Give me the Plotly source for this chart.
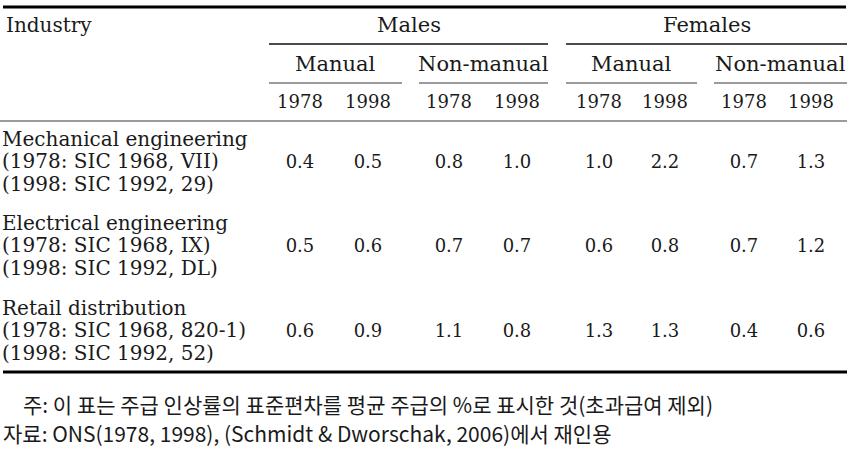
import plotly.graph_objects as go

# ---------------- data ----------------
industries = ["Mechanical engineering", "Electrical engineering", "Retail distribution"]
sic_1978 = ["(1978: SIC 1968, VII)", "(1978: SIC 1968, IX)", "(1978: SIC 1968, 820-1)"]
sic_1998 = ["(1998: SIC 1992, 29)", "(1998: SIC 1992, DL)", "(1998: SIC 1992, 52)"]

sexes = ["Males", "Females"]
occupations = ["Manual", "Non-manual"]
years = ["1978", "1998"]

male_manual_1978 = [0.4, 0.5, 0.6]
male_manual_1998 = [0.5, 0.6, 0.9]
male_nonmanual_1978 = [0.8, 0.7, 1.1]
male_nonmanual_1998 = [1.0, 0.7, 0.8]
female_manual_1978 = [1.0, 0.6, 1.3]
female_manual_1998 = [2.2, 0.8, 1.3]
female_nonmanual_1978 = [0.7, 0.7, 0.4]
female_nonmanual_1998 = [1.3, 1.2, 0.6]

header_industry = "Industry"
note_text = "주: 이 표는 주급 인상률의 표준편차를 평균 주급의 %로 표시한 것(초과급여 제외)"
source_text = "자료: ONS(1978, 1998), (Schmidt & Dworschak, 2006)에서 재인용"

# ---------------- layout constants ----------------
W, H = 854, 449
SERIF = "DejaVu Serif"
KR = "Noto Sans CJK KR"
INK = "#1a1a1a"

COL_X = [300, 368, 449, 517, 599, 665, 744, 811]       # value column centres
ROW_Y = [163, 247, 332]                                 # value row centres
LINE_GAP = 22.5                                         # label line spacing
OCC_SPANS = [(269, 402), (419, 548), (566, 697), (714, 847)]
SEX_SPANS = [(269, 548), (566, 847)]

columns = [male_manual_1978, male_manual_1998, male_nonmanual_1978, male_nonmanual_1998,
           female_manual_1978, female_manual_1998, female_nonmanual_1978, female_nonmanual_1998]

fig = go.Figure()

# value cells
for cx, col in zip(COL_X, columns):
    fig.add_trace(go.Scatter(
        x=[cx] * len(col), y=ROW_Y, mode="text",
        text=[f"{v:.1f}" for v in col], textposition="middle center",
        textfont=dict(family=SERIF, size=18, color=INK), hoverinfo="skip"))

# row labels (three lines per industry)
label_x = 2
for offset, labels in zip((-LINE_GAP, 0, LINE_GAP), (industries, sic_1978, sic_1998)):
    fig.add_trace(go.Scatter(
        x=[label_x] * len(labels), y=[y + offset for y in ROW_Y], mode="text",
        text=labels, textposition="middle right",
        textfont=dict(family=SERIF, size=20, color=INK), hoverinfo="skip"))

# year header row
fig.add_trace(go.Scatter(
    x=COL_X, y=[103] * len(COL_X), mode="text",
    text=[years[i % 2] for i in range(len(COL_X))], textposition="middle center",
    textfont=dict(family=SERIF, size=18, color=INK), hoverinfo="skip"))

annotations = []
annotations.append(dict(x=4, y=25, text=header_industry, xanchor="left", yanchor="middle",
                        showarrow=False, font=dict(family=SERIF, size=20, color=INK)))
for name, (a, b) in zip(sexes, SEX_SPANS):
    annotations.append(dict(x=(a + b) / 2, y=25, text=name, xanchor="center", yanchor="middle",
                            showarrow=False, font=dict(family=SERIF, size=21, color=INK)))
for i, (a, b) in enumerate(OCC_SPANS):
    annotations.append(dict(x=(a + b) / 2, y=64, text=occupations[i % 2], xanchor="center",
                            yanchor="middle", showarrow=False,
                            font=dict(family=SERIF, size=21, color=INK)))
annotations.append(dict(x=21, y=404, text=note_text, xanchor="left", yanchor="middle",
                        showarrow=False, font=dict(family=KR, size=21, color=INK)))
annotations.append(dict(x=1, y=433, text=source_text, xanchor="left", yanchor="middle",
                        showarrow=False, font=dict(family=KR, size=21, color=INK)))

shapes = []
def hline(x0, x1, y, width, color):
    shapes.append(dict(type="line", xref="x", yref="y", x0=x0, x1=x1, y0=y, y1=y,
                       line=dict(color=color, width=width)))

hline(3, 846, 7, 3, "#000000")
for a, b in SEX_SPANS:
    hline(a, b, 44, 1.5, "#111111")
for a, b in OCC_SPANS:
    hline(a, b, 83, 1.5, "#7a7a7a")
hline(0, 847, 121, 1.5, "#7a7a7a")
hline(3, 847, 372, 3, "#000000")

fig.update_layout(
    width=W, height=H,
    margin=dict(l=0, r=0, t=0, b=0, pad=0),
    paper_bgcolor="white", plot_bgcolor="white",
    showlegend=False,
    xaxis=dict(range=[0, W], visible=False, fixedrange=True),
    yaxis=dict(range=[H, 0], visible=False, fixedrange=True),
    annotations=annotations, shapes=shapes,
)

fig.write_html(
    "out.html",
    config={"displayModeBar": False},
    post_script="document.body.style.margin='0';document.body.style.overflow='hidden';",
)
